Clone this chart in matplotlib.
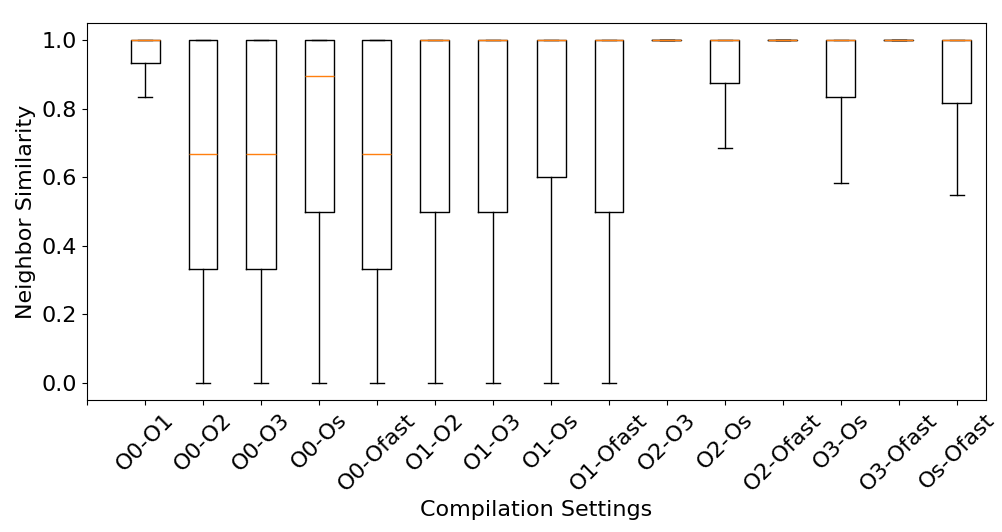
import matplotlib
matplotlib.use("Agg")
import matplotlib.pyplot as plt

labels = ["O0-O1", "O0-O2", "O0-O3", "O0-Os", "O0-Ofast", "O1-O2", "O1-O3", "O1-Os",
          "O1-Ofast", "O2-O3", "O2-Os", "O2-Ofast", "O3-Os", "O3-Ofast", "Os-Ofast"]
whislo = [0.834, 0.0, 0.0, 0.0, 0.0, 0.0, 0.0, 0.0, 0.0, 1.0, 0.686, 1.0, 0.584, 1.0, 0.547]
q1 = [0.933, 0.333, 0.333, 0.5, 0.333, 0.5, 0.5, 0.6, 0.5, 1.0, 0.875, 1.0, 0.833, 1.0, 0.817]
med = [1.0, 0.667, 0.667, 0.895, 0.667, 1.0, 1.0, 1.0, 1.0, 1.0, 1.0, 1.0, 1.0, 1.0, 1.0]
q3 = [1.0] * 15
whishi = [1.0] * 15

stats = []
for i in range(len(labels)):
    stats.append({"label": labels[i], "whislo": whislo[i], "q1": q1[i], "med": med[i],
                  "q3": q3[i], "whishi": whishi[i], "fliers": []})

fig = plt.figure(figsize=(10.02, 5.32), dpi=100)
ax = fig.add_axes([87 / 1002, 1 - 400 / 532, (986 - 87) / 1002, (400 - 23) / 532])
ax.bxp(stats, positions=range(1, len(labels) + 1), showfliers=False)
ax.set_xticks(range(len(labels) + 1))
ax.set_xticklabels([""] + labels, rotation=45, fontsize=16)
ax.tick_params(axis="y", labelsize=16)
ax.set_xlabel("Compilation Settings", fontsize=16)
ax.set_ylabel("Neighbor Similarity", fontsize=16)
fig.savefig("out.png")
